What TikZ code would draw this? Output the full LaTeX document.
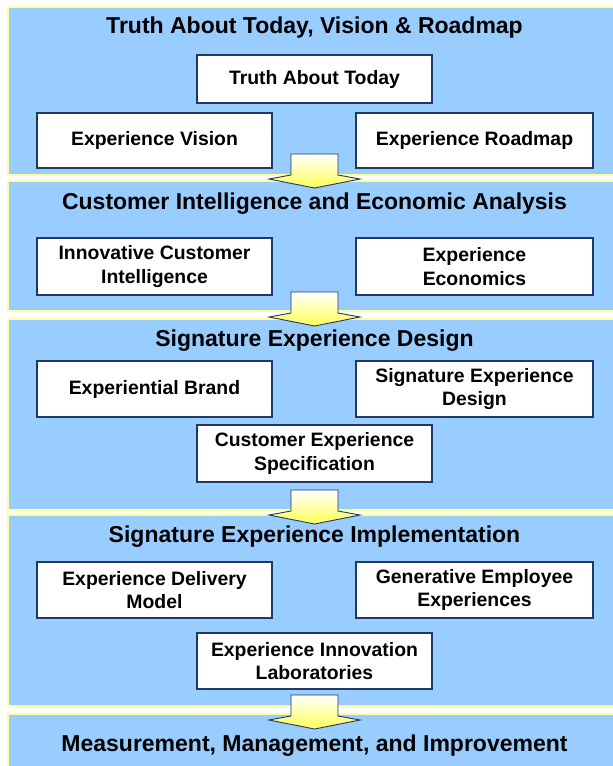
\documentclass[tikz,border=0pt]{standalone}
\usepackage{fontspec}
\setmainfont{Liberation Sans}
\definecolor{panelblue}{HTML}{99CCFF}
\definecolor{panelrim}{HTML}{FFFF99}
\definecolor{boxrim}{HTML}{1F3864}
\definecolor{arrowyellow}{HTML}{FFFF55}
\begin{document}
\begin{tikzpicture}[x=1pt,y=-1pt,
  panel/.style={draw=panelrim, fill=panelblue, line width=1.3pt},
  heading/.style={font=\bfseries\fontsize{23}{26}\selectfont, text=black, inner sep=0pt},
  stepbox/.style={draw=boxrim, fill=white, line width=1.1pt, align=center,
    font=\bfseries\fontsize{19.4}{23.3}\selectfont, inner sep=0pt},
  narrowbox/.style={stepbox, minimum width=235pt},
  blockarrow/.style={draw=boxrim, line width=0.9pt, top color=white, bottom color=arrowyellow}
]
\useasboundingbox (0,0) rectangle (613,766);
\clip (0,0) rectangle (613,766);

% stage panels
\draw[panel] (8,7) rectangle (630,175);
\draw[panel] (8,181) rectangle (630,311);
\draw[panel] (8,319) rectangle (630,510);
\draw[panel] (8,515) rectangle (630,706);
\draw[panel] (8,714) rectangle (630,790);

% stage headings
\node[heading] (h1) at (314.5,28) {Truth About Today, Vision \& Roadmap};
\node[heading] (h2) at (314.5,204) {Customer Intelligence and Economic Analysis};
\node[heading] (h3) at (314.5,341) {Signature Experience Design};
\node[heading] (h4) at (314.5,536.5) {Signature Experience Implementation};
\node[heading] (h5) at (314.5,746) {Measurement, Management, and Improvement};

% stage 1
\node[narrowbox, minimum height=48pt] (tat) at (314.5,79) {Truth About Today};
\node[narrowbox, minimum height=55pt] (ev) at (154.5,140.5) {Experience Vision};
\node[stepbox, minimum width=237pt, minimum height=55pt] (er) at (474.5,140.5) {Experience Roadmap};

% stage 2
\node[narrowbox, minimum height=57pt] (ici) at (154.5,266.5) {Innovative Customer\\Intelligence};
\node[stepbox, minimum width=237pt, minimum height=57pt] (ee) at (474.5,266.5) {Experience\\Economics};

% stage 3
\node[narrowbox, minimum height=56pt] (eb) at (154.5,389) {Experiential Brand};
\node[stepbox, minimum width=237pt, minimum height=56pt] (sed) at (474.5,389) {Signature Experience\\Design};
\node[narrowbox, minimum height=57pt] (ces) at (314.5,453.5) {Customer Experience\\Specification};

% stage 4
\node[narrowbox, minimum height=56pt] (edm) at (154.5,590) {Experience Delivery\\Model};
\node[stepbox, minimum width=237pt, minimum height=56pt] (gee) at (474.5,590) {Generative Employee\\Experiences};
\node[narrowbox, minimum height=56pt] (eil) at (314.5,661) {Experience Innovation\\Laboratories};

% block arrows leading from one stage to the next
\coordinate (a1) at (314.5,154);
\coordinate (a2) at (314.5,292);
\coordinate (a3) at (314.5,490);
\coordinate (a4) at (314.5,695);
\foreach \a in {a1,a2,a3,a4}{
  \path[blockarrow] (\a) ++(-23.5,0) -- ++(47,0) -- ++(0,21) -- ++(22,4)
    -- ++(-45.5,9) -- ++(-45.5,-9) -- ++(22,-4) -- cycle;
}
\end{tikzpicture}
\end{document}
